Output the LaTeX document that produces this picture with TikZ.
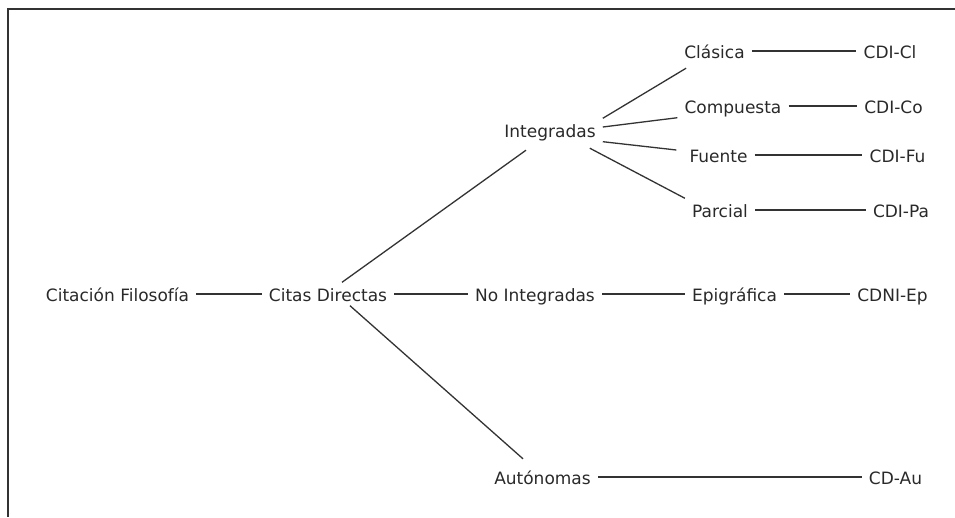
\documentclass[tikz,border=0pt]{standalone}
\usepackage{fontspec}
\setmainfont{DejaVu Sans}
\definecolor{ink}{HTML}{333333}
\begin{document}
\begin{tikzpicture}[x=1pt, y=-1pt,
    lbl/.style={font=\fontsize{17}{20}\selectfont, text=ink!80!black, inner xsep=7pt, inner ysep=4pt, text height=15pt, text depth=0pt},
    con/.style={draw=ink, line width=1.3pt}]
    \useasboundingbox (0,0) rectangle (955,517);
    \draw[ink, line width=2pt] (955,9) -- (8,9) -- (8,517);
    \node[lbl] (cit) at (117.5,294) {Citación Filosofía};
    \node[lbl] (cd) at (328,294) {Citas Directas};
    \node[lbl] (integ) at (550,130) {Integradas};
    \node[lbl] (noint) at (535,294) {No Integradas};
    \node[lbl] (aut) at (542.5,477) {Autónomas};
    \node[lbl] (cla) at (714.5,51) {Clásica};
    \node[lbl] (com) at (733,106) {Compuesta};
    \node[lbl] (fue) at (718.5,155) {Fuente};
    \node[lbl] (par) at (720,210) {Parcial};
    \node[lbl] (epi) at (734.5,294) {Epigráfica};
    \node[lbl] (cdicl) at (890,51) {CDI-Cl};
    \node[lbl] (cdico) at (893.5,106) {CDI-Co};
    \node[lbl] (cdifu) at (897.5,155) {CDI-Fu};
    \node[lbl] (cdipa) at (901,210) {CDI-Pa};
    \node[lbl] (cdniep) at (892.5,294) {CDNI-Ep};
    \node[lbl] (cdau) at (895.5,477) {CD-Au};
    \draw[con] (cit) -- (cd);
    \draw[con] (cd) -- (noint);
    \draw[con] (noint) -- (epi);
    \draw[con] (epi) -- (cdniep);
    \draw[con] (aut) -- (cdau);
    \draw[con] ([xshift=14pt]cd.north) -- ([xshift=-24pt,yshift=-8.5pt]integ.south);
    \draw[con] ([xshift=22pt]cd.south) -- ([xshift=-19.5pt,yshift=6.5pt]aut.north);
    \draw[con] (integ.north east) -- ([xshift=9pt,yshift=-5.5pt]cla.south west);
    \draw[con] ([yshift=3pt]integ.east) -- (com.south west);
    \draw[con] (integ.south east) -- ([xshift=-6pt,yshift=5pt]fue.west);
    \draw[con] ([xshift=-13pt,yshift=-6.5pt]integ.south east) -- (par.north west);
    \draw[con] (cla) -- (cdicl);
    \draw[con] (com) -- (cdico);
    \draw[con] (fue) -- (cdifu);
    \draw[con] (par) -- (cdipa);
\end{tikzpicture}
\end{document}
